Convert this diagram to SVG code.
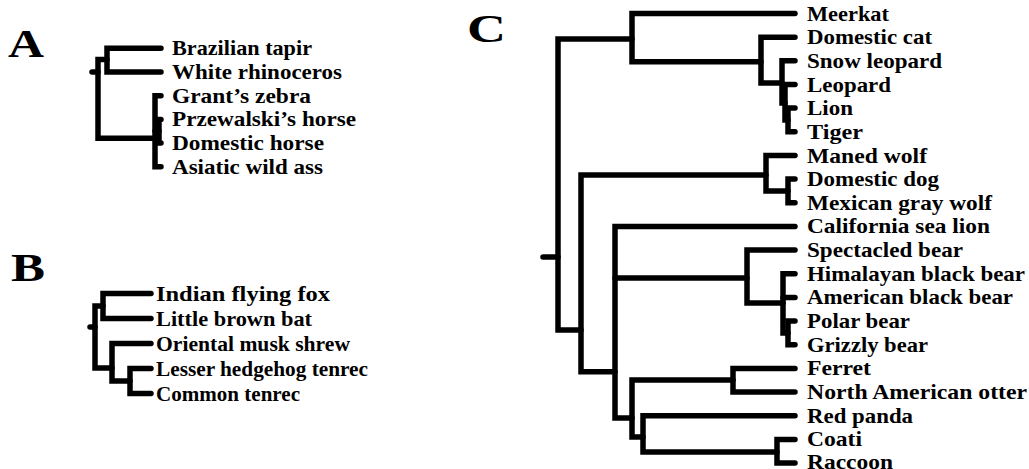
<svg xmlns="http://www.w3.org/2000/svg" width="1029" height="469" viewBox="0 0 1029 469">
<style>
.br{fill:none;stroke:#000;stroke-width:5.5;stroke-linecap:round;stroke-linejoin:miter}
.tk{fill:none;stroke:#000;stroke-width:5.5;stroke-linecap:round}
text{font-family:"Liberation Serif","Times New Roman",serif;font-weight:bold;fill:#000}
.sp{font-size:22px}
.pl{font-size:41px}
</style>
<rect width="1029" height="469" fill="#fff"/>
<g id="panel-labels">
<text class="pl" x="8" y="57" textLength="36" lengthAdjust="spacingAndGlyphs">A</text>
<text class="pl" x="11" y="281" textLength="34" lengthAdjust="spacingAndGlyphs">B</text>
<text class="pl" x="467" y="42" textLength="39" lengthAdjust="spacingAndGlyphs">C</text>
</g>
<g id="connectors">
<!-- Panel A -->
<path class="tk" d="M92 72 H98"/>
<path class="br" d="M107 59.5 H98 V138.3 H155"/>
<path class="br" d="M161 48.3 H107 V72 H161"/>
<path class="br" d="M161 95.7 H155 V166.8 H161"/>
<path class="br" d="M155 131 H159"/>
<path class="br" d="M161 119.4 H159 V143.1 H161"/>
<!-- Panel B -->
<path class="tk" d="M90 327 H95"/>
<path class="br" d="M103 306 H95 V368 H112"/>
<path class="br" d="M151 293.5 H103 V318.5 H151"/>
<path class="br" d="M151 343.5 H112 V381 H130"/>
<path class="br" d="M151 368.5 H130 V393.5 H151"/>
<!-- Panel C -->
<path class="tk" d="M543 257 H558"/>
<path class="br" d="M632 39 H558 V330 H581"/>
<path class="br" d="M795 13.5 H632 V61.7 H761"/>
<path class="br" d="M795 37.2 H761 V83 H782"/>
<path class="br" d="M795 60.8 H782 V103 H785"/>
<path class="br" d="M795 84.5 H785 V120 H788"/>
<path class="br" d="M795 108.1 H788 V131.8 H795"/>
<path class="br" d="M766 175 H581 V371.7 H615"/>
<path class="br" d="M795 155.5 H766 V191 H788"/>
<path class="br" d="M795 179.1 H788 V202.8 H795"/>
<path class="br" d="M795 226.4 H615 V418 H632"/>
<path class="br" d="M615 278 H747"/>
<path class="br" d="M795 250.1 H747 V303 H783"/>
<path class="br" d="M795 273.8 H783 V333 H788"/>
<path class="br" d="M783 297.4 H795"/>
<path class="br" d="M795 321.1 H788 V344.7 H795"/>
<path class="br" d="M733 380 H632 V437 H643"/>
<path class="br" d="M795 368.4 H733 V392.1 H795"/>
<path class="br" d="M795 415.7 H643 V452 H777"/>
<path class="br" d="M795 439.4 H777 V463 H795"/>
</g>
<g id="node-brazilian-tapir"><text class="sp" x="172" y="55.3" textLength="140" lengthAdjust="spacingAndGlyphs">Brazilian tapir</text></g>
<g id="node-white-rhinoceros"><text class="sp" x="172" y="79" textLength="170" lengthAdjust="spacingAndGlyphs">White rhinoceros</text></g>
<g id="node-grants-zebra"><text class="sp" x="172" y="102.7" textLength="139" lengthAdjust="spacingAndGlyphs">Grant’s zebra</text></g>
<g id="node-przewalskis-horse"><text class="sp" x="172" y="126.4" textLength="184" lengthAdjust="spacingAndGlyphs">Przewalski’s horse</text></g>
<g id="node-domestic-horse"><text class="sp" x="172" y="150.1" textLength="152" lengthAdjust="spacingAndGlyphs">Domestic horse</text></g>
<g id="node-asiatic-wild-ass"><text class="sp" x="172" y="173.8" textLength="151" lengthAdjust="spacingAndGlyphs">Asiatic wild ass</text></g>
<g id="node-indian-flying-fox"><text class="sp" x="156" y="300.5" textLength="174" lengthAdjust="spacingAndGlyphs">Indian flying fox</text></g>
<g id="node-little-brown-bat"><text class="sp" x="156" y="325.5" textLength="156" lengthAdjust="spacingAndGlyphs">Little brown bat</text></g>
<g id="node-oriental-musk-shrew"><text class="sp" x="156" y="350.5" textLength="194" lengthAdjust="spacingAndGlyphs">Oriental musk shrew</text></g>
<g id="node-lesser-hedgehog-tenrec"><text class="sp" x="156" y="375.5" textLength="212" lengthAdjust="spacingAndGlyphs">Lesser hedgehog tenrec</text></g>
<g id="node-common-tenrec"><text class="sp" x="156" y="400.5" textLength="144" lengthAdjust="spacingAndGlyphs">Common tenrec</text></g>
<g id="node-meerkat"><text class="sp" x="807" y="20.5" textLength="82" lengthAdjust="spacingAndGlyphs">Meerkat</text></g>
<g id="node-domestic-cat"><text class="sp" x="807" y="44.2" textLength="125" lengthAdjust="spacingAndGlyphs">Domestic cat</text></g>
<g id="node-snow-leopard"><text class="sp" x="807" y="67.8" textLength="135" lengthAdjust="spacingAndGlyphs">Snow leopard</text></g>
<g id="node-leopard"><text class="sp" x="807" y="91.5" textLength="84" lengthAdjust="spacingAndGlyphs">Leopard</text></g>
<g id="node-lion"><text class="sp" x="807" y="115.1" textLength="46" lengthAdjust="spacingAndGlyphs">Lion</text></g>
<g id="node-tiger"><text class="sp" x="807" y="138.8" textLength="56" lengthAdjust="spacingAndGlyphs">Tiger</text></g>
<g id="node-maned-wolf"><text class="sp" x="807" y="162.5" textLength="120" lengthAdjust="spacingAndGlyphs">Maned wolf</text></g>
<g id="node-domestic-dog"><text class="sp" x="807" y="186.1" textLength="132" lengthAdjust="spacingAndGlyphs">Domestic dog</text></g>
<g id="node-mexican-gray-wolf"><text class="sp" x="807" y="209.8" textLength="185" lengthAdjust="spacingAndGlyphs">Mexican gray wolf</text></g>
<g id="node-california-sea-lion"><text class="sp" x="807" y="233.4" textLength="183" lengthAdjust="spacingAndGlyphs">California sea lion</text></g>
<g id="node-spectacled-bear"><text class="sp" x="807" y="257.1" textLength="156" lengthAdjust="spacingAndGlyphs">Spectacled bear</text></g>
<g id="node-himalayan-black-bear"><text class="sp" x="807" y="280.8" textLength="218" lengthAdjust="spacingAndGlyphs">Himalayan black bear</text></g>
<g id="node-american-black-bear"><text class="sp" x="807" y="304.4" textLength="206" lengthAdjust="spacingAndGlyphs">American black bear</text></g>
<g id="node-polar-bear"><text class="sp" x="807" y="328.1" textLength="103" lengthAdjust="spacingAndGlyphs">Polar bear</text></g>
<g id="node-grizzly-bear"><text class="sp" x="807" y="351.7" textLength="121" lengthAdjust="spacingAndGlyphs">Grizzly bear</text></g>
<g id="node-ferret"><text class="sp" x="807" y="375.4" textLength="64" lengthAdjust="spacingAndGlyphs">Ferret</text></g>
<g id="node-north-american-otter"><text class="sp" x="807" y="399.1" textLength="220" lengthAdjust="spacingAndGlyphs">North American otter</text></g>
<g id="node-red-panda"><text class="sp" x="807" y="422.7" textLength="106" lengthAdjust="spacingAndGlyphs">Red panda</text></g>
<g id="node-coati"><text class="sp" x="807" y="446.4" textLength="55" lengthAdjust="spacingAndGlyphs">Coati</text></g>
<g id="node-raccoon"><text class="sp" x="807" y="469" textLength="86" lengthAdjust="spacingAndGlyphs">Raccoon</text></g>
</svg>
